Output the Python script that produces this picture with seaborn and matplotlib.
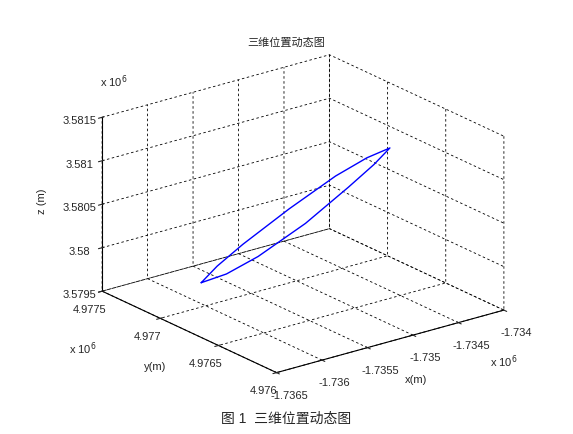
import numpy as np
import matplotlib
matplotlib.use("Agg")
import matplotlib.pyplot as plt
import seaborn as sns

sns.set_style("white")
plt.rcParams['font.family'] = ['Liberation Sans', 'Noto Sans CJK SC', 'DejaVu Sans']

# trajectory (units of 1e6 m)
traj_x = [-1.73605, -1.73590, -1.73568, -1.73530, -1.73493, -1.73470, -1.73455,
          -1.73470, -1.73493, -1.73530, -1.73568, -1.73590, -1.73605]
traj_y = [4.97700, 4.97698, 4.97693, 4.97683, 4.97672, 4.97663, 4.97655,
          4.97657, 4.97661, 4.97669, 4.97680, 4.97690, 4.97700]
traj_z = [3.57978, 3.57994, 3.58016, 3.58052, 3.58086, 3.58106, 3.58118,
          3.58102, 3.58080, 3.58044, 3.58010, 3.57990, 3.57978]

x_ticks = [-1.7365, -1.736, -1.7355, -1.735, -1.7345, -1.734]
y_ticks = [4.976, 4.9765, 4.977, 4.9775]
z_ticks = [3.5795, 3.58, 3.5805, 3.581, 3.5815]

fig = plt.figure(figsize=(5.73, 4.34), dpi=100)
ax = fig.add_axes([0.05, 0.066, 0.94, 0.86], projection='3d')
ax.set_proj_type('ortho')
ax.view_init(elev=21, azim=-127.5)
ax.set_box_aspect((1, 1, 0.65), zoom=1.16)

ax.plot(traj_x, traj_y, traj_z, color='#0000ff', lw=1.0)

ax.set_xlim(x_ticks[0], x_ticks[-1])
ax.set_ylim(y_ticks[0], y_ticks[-1])
ax.set_zlim(z_ticks[0], z_ticks[-1])
ax.set_xticks(x_ticks)
ax.set_yticks(y_ticks)
ax.set_zticks(z_ticks)
ax.set_xticklabels([f"{v:g}" for v in x_ticks], fontsize=8)
ax.set_yticklabels([f"{v:g}" for v in y_ticks], fontsize=8)
ax.set_zticklabels([f"{v:g}" for v in z_ticks], fontsize=8)
ax.set_xlabel('x(m)', fontsize=8, labelpad=0)
ax.set_ylabel('y(m)', fontsize=8, labelpad=0)
ax.set_zlabel('z (m)', fontsize=8, labelpad=0)

for axis in (ax.xaxis, ax.yaxis, ax.zaxis):
    axis.set_pane_color((1, 1, 1, 0))
    axis.line.set_color('black')
    axis._axinfo['grid'].update(color='black', linestyle=(0, (3, 3)), linewidth=0.6)
ax.tick_params(pad=0)
ax.tick_params(axis='x', pad=2)

fig.text(0.5, 0.895, '三维位置动态图', fontsize=8, ha='center')
fig.text(0.175, 0.80, r'x 10$^6$', fontsize=8)
fig.text(0.12, 0.185, r'x 10$^6$', fontsize=8)
fig.text(0.855, 0.155, r'x 10$^6$', fontsize=8)
fig.text(0.5, 0.025, '图 1  三维位置动态图', fontsize=10, ha='center')

fig.savefig('out.png', dpi=100, facecolor='white')
